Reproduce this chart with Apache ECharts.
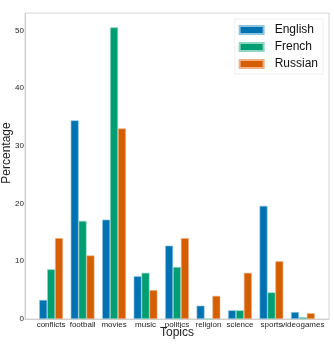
<!DOCTYPE html>
<html>
<head>
	<meta charset="UTF-8">
	<title>Topics by language</title>
	<style>
		html, body { margin: 0; padding: 0; background: #fff; }
		#main { width: 334px; height: 351px; }
	</style>
	<script src="https://cdn.jsdelivr.net/npm/echarts@6/dist/echarts.min.js"></script>
</head>
<body>
	<div id="main"></div>
	<script>
		var topics = ['conflicts', 'football', 'movies', 'music', 'politics', 'religion', 'science', 'sports', 'videogames'];
		var english = [3.3, 34.4, 17.2, 7.4, 12.7, 2.3, 1.5, 19.6, 1.2];
		var french = [8.6, 17.0, 50.5, 8.0, 9.0, 0, 1.5, 4.6, 0.3];
		var russian = [14.0, 11.0, 33.0, 5.0, 14.0, 4.0, 8.0, 10.0, 1.0];
		var yTicks = [0, 10, 20, 30, 40, 50];

		var colors = ['#0173b2', '#029e73', '#d55e00'];
		var font = '"Liberation Sans", Arial, sans-serif';

		function pairs(arr) {
			return arr.map(function (v, i) { return [i, v]; });
		}

		var chart = echarts.init(document.getElementById('main'));

		function barSeries(name, arr, color, edge) {
			return {
				name: name,
				type: 'bar',
				data: pairs(arr),
				barWidth: 7.9,
				barGap: '0%',
				itemStyle: { color: color, borderColor: edge, borderWidth: 0.6 },
				animation: false
			};
		}

		// labels of the topic axis; the last one goes on a second axis so the
		// overlap check does not drop "sports" (the two touch, as in the picture)
		var topicIdx = topics.map(function (t, i) { return i; });
		var lastIdx = topicIdx.length - 1;

		function topicLabel(values) {
			return {
				customValues: values,
				formatter: function (v) { return topics[Math.round(v)] || ''; },
				hideOverlap: false,
				showMinLabel: true, showMaxLabel: true,
				fontSize: 8, color: '#222', margin: 2
			};
		}

		chart.setOption({
			animation: false,
			textStyle: { fontFamily: font },
			grid: {
				left: 25, top: 13, right: 5, bottom: 32,
				outerBoundsMode: 'none',
				containLabel: false,
				show: true, borderColor: '#d6d6d6', borderWidth: 1
			},
			legend: {
				orient: 'vertical',
				right: 11, top: 19,
				icon: 'rect',
				itemWidth: 24, itemHeight: 8, itemGap: 5,
				padding: [5, 5, 4, 4],
				backgroundColor: '#fff',
				borderColor: '#f0f0f0', borderWidth: 1,
				textStyle: { fontSize: 12, color: '#111', fontFamily: font, padding: [0, 0, 0, 6] },
				data: ['English', 'French', 'Russian']
			},
			xAxis: [{
				type: 'value',
				min: -0.83, max: 8.83,
				name: 'Topics',
				nameLocation: 'middle',
				nameGap: 8,
				nameMoveOverlap: false,
				nameTextStyle: { fontSize: 12, color: '#222', verticalAlign: 'top' },
				axisLine: { show: true, onZero: false, lineStyle: { color: '#cfcfcf' } },
				axisTick: { show: false },
				splitLine: { show: false },
				axisLabel: topicLabel(topicIdx.slice(0, lastIdx))
			}, {
				type: 'value',
				position: 'bottom',
				min: -0.83, max: 8.83,
				axisLine: { show: false, onZero: false },
				axisTick: { show: false },
				splitLine: { show: false },
				axisLabel: topicLabel([lastIdx])
			}],
			yAxis: {
				type: 'value',
				min: 0, max: 53, interval: 10,
				name: 'Percentage',
				nameLocation: 'middle',
				nameGap: 12,
				nameMoveOverlap: false,
				nameTextStyle: { fontSize: 12, color: '#222', padding: [0, 0, 0, 26] },
				axisLine: { show: true, onZero: false, lineStyle: { color: '#cfcfcf' } },
				axisTick: { show: false },
				splitLine: { show: false },
				axisLabel: {
					customValues: yTicks,
					hideOverlap: false,
					fontSize: 8, color: '#222', margin: 1
				}
			},
			series: [
				barSeries('English', english, colors[0], '#8ec3e0'),
				barSeries('French', french, colors[1], '#8fd6c0'),
				barSeries('Russian', russian, colors[2], '#f0b08a')
			]
		});
	</script>
</body>
</html>
